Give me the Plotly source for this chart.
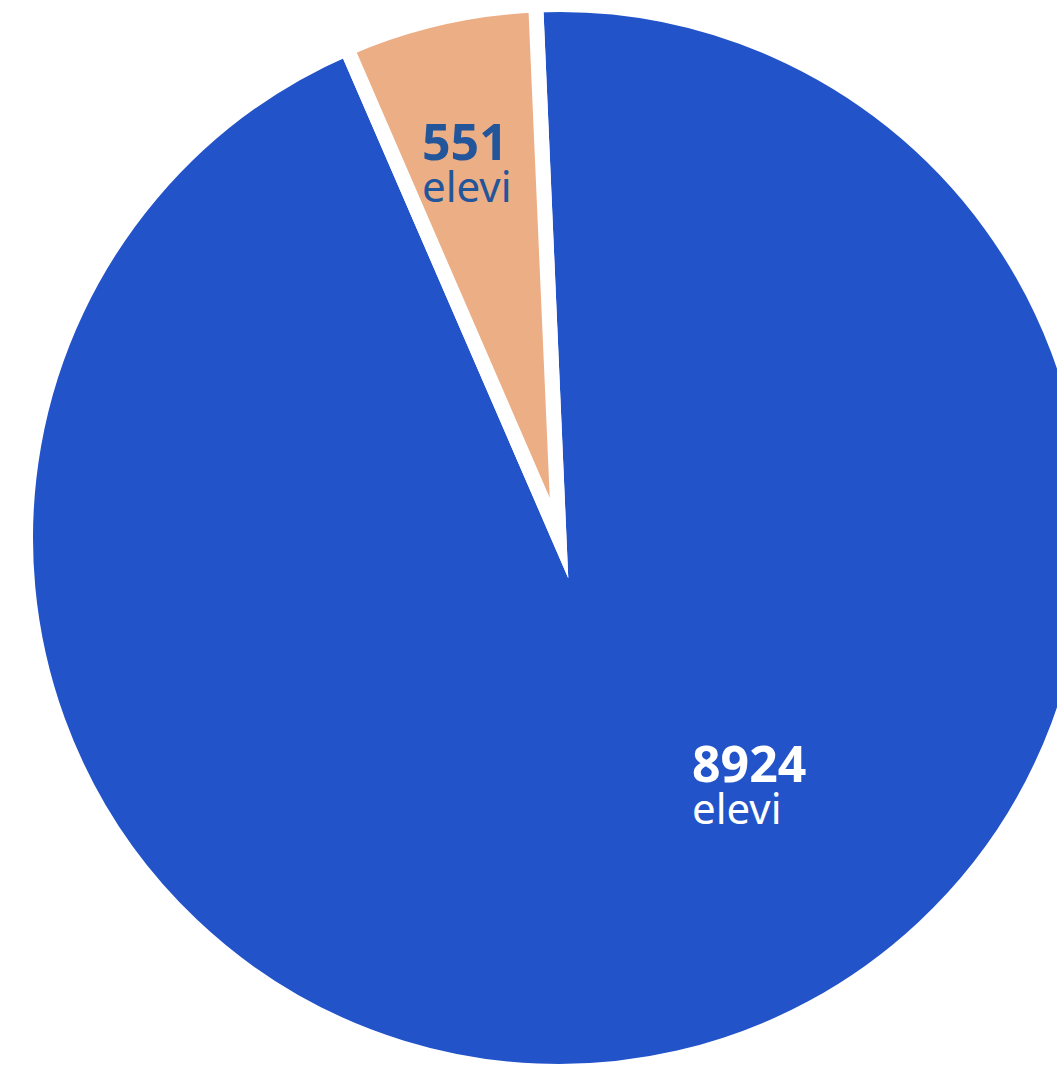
import math
import plotly.graph_objects as go

# ---- data ----
categories = ["Categoria A", "Categoria B"]
values = [8924, 551]
unit_labels = ["elevi", "elevi"]

# ---- style ----
COLORS = ["#2253c9", "#ecae85"]
TEXT_COLORS = ["#ffffff", "#22559a"]
FONT = "Noto Sans"
W, H = 1130, 1090            # figure size (clipped to the view below)
VIEW_W, VIEW_H = 1057, 1066
CX, CY = 559, 538            # pie centre in px (from top-left)
R_VIS = 526                  # visible radius
LINE_W = 15                  # white separator width
R_PATH = R_VIS + LINE_W / 2
ROTATION = -2.5
LABEL_ANGLE_FRAC = [0.455, 0.155]
LABEL_R_FRAC = [0.527, 0.765]

fig = go.Figure(
    go.Pie(
        labels=categories,
        values=values,
        sort=False,
        direction="clockwise",
        rotation=ROTATION,
        marker=dict(colors=COLORS, line=dict(color="#ffffff", width=LINE_W)),
        textinfo="none",
        hoverinfo="none",
        showlegend=False,
        domain=dict(
            x=[(CX - R_PATH) / W, (CX + R_PATH) / W],
            y=[(H - CY - R_PATH) / H, (H - CY + R_PATH) / H],
        ),
    )
)

total = sum(values)
start = ROTATION
annotations = []
for v, unit, col, af, rf in zip(values, unit_labels, TEXT_COLORS, LABEL_ANGLE_FRAC, LABEL_R_FRAC):
    span = v / total * 360.0
    a = math.radians(start + af * span)
    r = rf * R_VIS
    px = CX + r * math.sin(a)
    py = CY - r * math.cos(a)
    annotations.append(dict(
        x=px / W, y=1 - py / H, xref="paper", yref="paper",
        xanchor="left", yanchor="middle", align="left", showarrow=False,
        text=(f'<span style="font-size:50px"><b>{v}</b></span><br>'
              f'<span style="font-size:42px">{unit}</span>'),
        font=dict(family=FONT, size=32, color=col),
    ))
    start += span

fig.update_layout(
    width=W, height=H,
    margin=dict(l=0, r=0, t=0, b=0),
    paper_bgcolor="#ffffff",
    plot_bgcolor="#ffffff",
    annotations=annotations,
)

post = ("document.documentElement.style.overflow='hidden';"
        "document.body.style.margin='0';"
        "var st=document.createElement('style');"
        "st.textContent='.pielayer path.surface{stroke-linejoin:miter !important;stroke-miterlimit:12 !important;}';"
        "document.head.appendChild(st);"
        "var gd=document.getElementById('{plot_id}');var p=gd.parentElement;"
        "p.style.width='" + str(VIEW_W) + "px';p.style.height='" + str(VIEW_H) + "px';"
        "p.style.overflow='hidden';")

fig.write_html("out.html", post_script=post)
